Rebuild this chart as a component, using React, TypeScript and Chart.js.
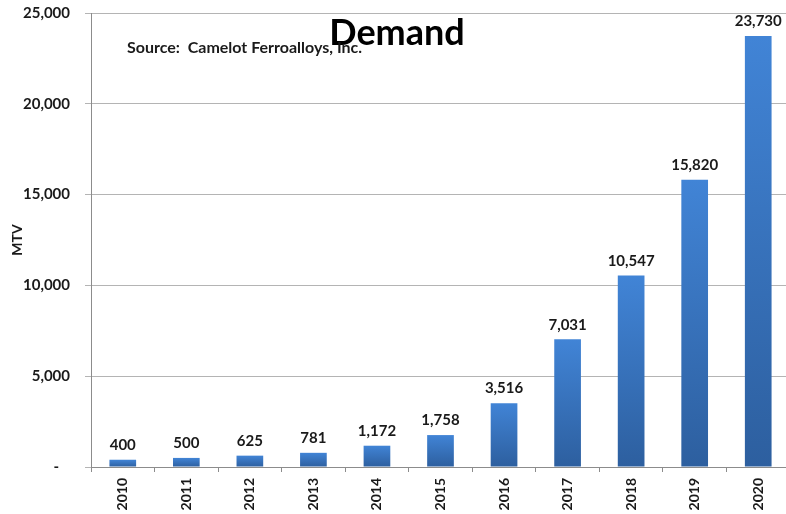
import React, { useEffect, useRef } from "react";
import { Chart, registerables } from "chart.js";

Chart.register(...registerables);

const categories = ["2010", "2011", "2012", "2013", "2014", "2015", "2016", "2017", "2018", "2019", "2020"];
const demandValues = [400, 500, 625, 781, 1172, 1758, 3516, 7031, 10547, 15820, 23730];
const yTickValues = [0, 5000, 10000, 15000, 20000, 25000];
const titleText = "Demand";
const sourceText = "Source:  Camelot Ferroalloys, Inc.";
const yAxisTitle = "MTV";

const FONT = "Lato, 'Open Sans', sans-serif";

const fmt = (v: number) => v.toLocaleString("en-US");

const overlayPlugin = {
  id: "overlay",
  afterDatasetsDraw(chart: any) {
    const ctx = chart.ctx;
    const meta = chart.getDatasetMeta(0);
    ctx.save();
    ctx.fillStyle = "#1a1a1a";
    ctx.font = `bold 15px ${FONT}`;
    ctx.textAlign = "center";
    ctx.textBaseline = "bottom";
    meta.data.forEach((bar: any, i: number) => {
      ctx.fillText(fmt(demandValues[i]), bar.x, bar.y - 7);
    });
    ctx.font = `bold 36px ${FONT}`;
    ctx.fillStyle = "#000";
    ctx.textBaseline = "alphabetic";
    ctx.fillText(titleText, 397, 45);
    ctx.font = `bold 16px ${FONT}`;
    ctx.textAlign = "left";
    ctx.fillStyle = "#1a1a1a";
    ctx.fillText(sourceText, 127, 53);
    ctx.restore();
  },
};

export default function App() {
  const ref = useRef<HTMLCanvasElement>(null);
  useEffect(() => {
    if (!ref.current) return;
    const chart = new Chart(ref.current, {
      type: "bar",
      data: {
        labels: categories,
        datasets: [
          {
            data: demandValues,
            categoryPercentage: 1,
            barPercentage: 0.42,
            borderWidth: 0,
            backgroundColor: (c: any) => {
              const ch = c.chart;
              const y = ch.scales?.y;
              if (!y || c.dataIndex === undefined) return "#3672c0";
              const top = y.getPixelForValue(demandValues[c.dataIndex]);
              const base = y.getPixelForValue(0);
              if (!isFinite(top) || !isFinite(base) || base - top < 1) return "#3672c0";
              const g = ch.ctx.createLinearGradient(0, top, 0, base);
              g.addColorStop(0, "#4184d6");
              g.addColorStop(1, "#2d5f9f");
              return g;
            },
          },
        ],
      },
      options: {
        responsive: false,
        animation: false,
        events: [],
        layout: { padding: { top: 13, right: 10, left: 0, bottom: 0 } },
        plugins: { legend: { display: false }, tooltip: { enabled: false }, title: { display: false } },
        scales: {
          x: {
            grid: { display: true, drawOnChartArea: false, drawTicks: true, tickLength: 5, color: "#8c8c8c", offset: true },
            border: { color: "#8c8c8c", width: 1 },
            ticks: {
              minRotation: 90,
              maxRotation: 90,
              padding: 6,
              color: "#1a1a1a",
              font: { family: FONT, size: 14, weight: "bold" },
            },
            afterFit: (s: any) => {
              s.height = 47;
              s.paddingLeft = 0;
              s.paddingRight = 0;
            },
          },
          y: {
            min: 0,
            max: 25000,
            afterBuildTicks: (s: any) => {
              s.ticks = yTickValues.map((v) => ({ value: v }));
            },
            grid: { color: "#b4b4b4", tickLength: 6, drawTicks: true },
            border: { color: "#8c8c8c", width: 1 },
            ticks: {
              padding: 15,
              color: "#1a1a1a",
              font: { family: FONT, size: 15, weight: "bold" },
              callback: (v: any) => (Number(v) === 0 ? "-   " : fmt(Number(v))),
            },
            title: {
              display: true,
              text: yAxisTitle,
              color: "#1a1a1a",
              font: { family: FONT, size: 14, weight: "bold" },
              padding: { top: 9, bottom: 0 },
            },
            afterFit: (s: any) => {
              s.width = 91;
              s.paddingTop = 0;
              s.paddingBottom = 0;
            },
          },
        },
      },
      plugins: [overlayPlugin],
    } as any);
    return () => chart.destroy();
  }, []);
  return (
    <div style={{ position: "fixed", left: 0, top: 0, width: 786, height: 514, overflow: "hidden", background: "#fff" }}>
      <canvas ref={ref} width={800} height={514} style={{ display: "block" }} />
    </div>
  );
}
